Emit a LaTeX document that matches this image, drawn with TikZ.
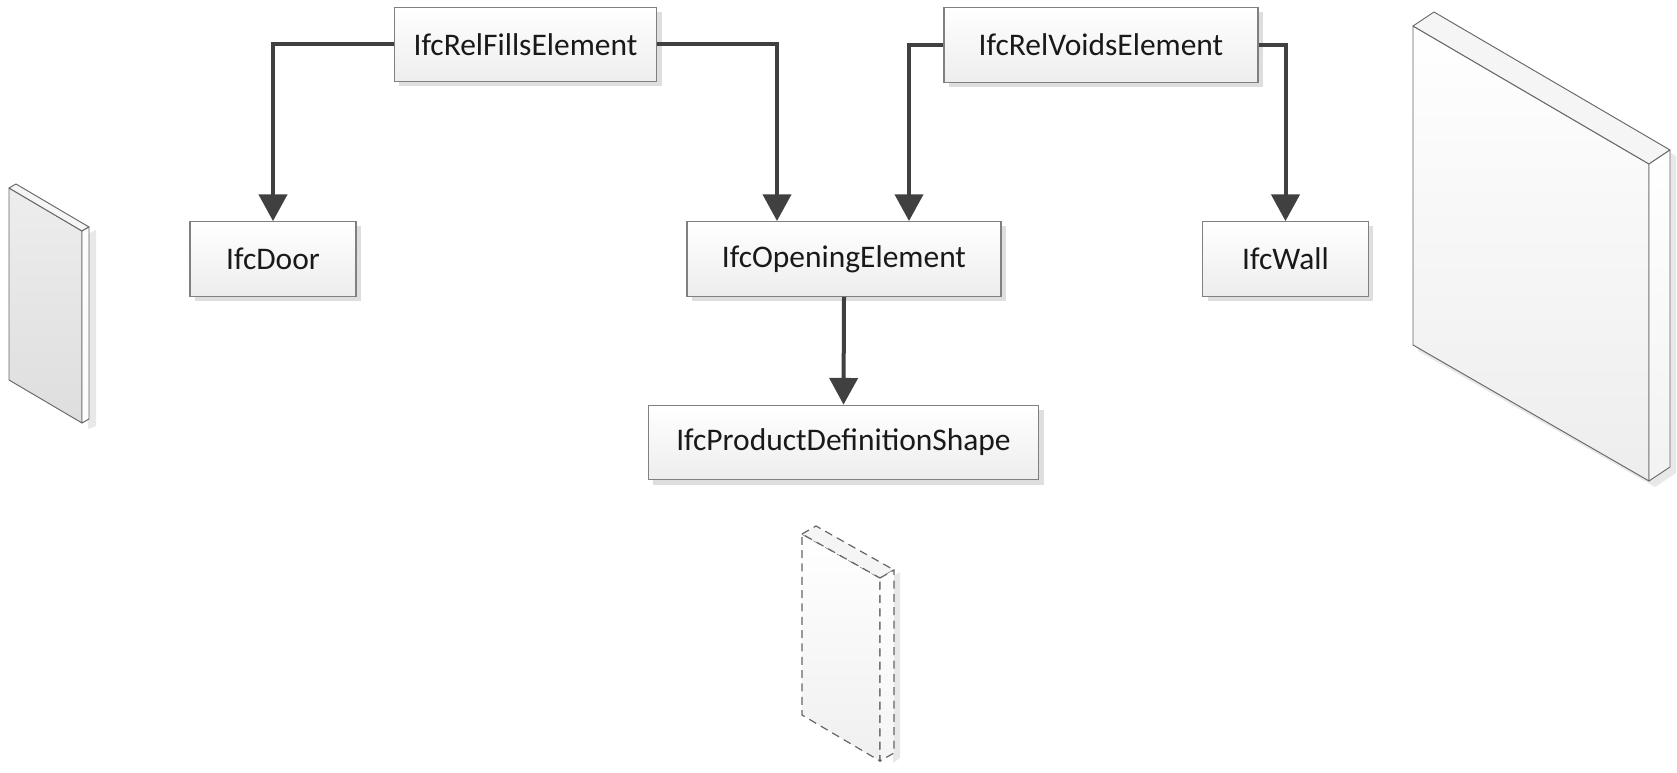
\documentclass[tikz,border=0pt]{standalone}
\usepackage{fontspec}
\setmainfont{Carlito}
\usetikzlibrary{arrows.meta,shadows}
\tikzset{ifcbox/.style={draw=black!50, line width=0.8pt,
                        top color=white, bottom color=black!7,
                        minimum height=56pt, inner sep=0pt, text=black!90,
                        font=\fontsize{23.6}{28}\selectfont,
                        drop shadow={shadow xshift=3.5pt, shadow yshift=-3.5pt,
                                     fill=black!13, opacity=1}},
         link/.style={draw=black!75, line width=3pt,
                      -{Triangle[length=20pt,width=21pt]}},
         slab/.style={draw=black!60, line width=0.7pt, line join=round},
         hollow/.style={draw=black!60, line width=0.9pt, dash pattern=on 6pt off 4pt},
         slabshadow/.style={fill=black!9}}

\begin{document}
\begin{tikzpicture}[x=0.75pt,y=-0.75pt]
    \useasboundingbox (0,0) rectangle (1677,773);

    \node[ifcbox, minimum width=197pt] (fills) at (525.5,44.5) {IfcRelFillsElement};
    \node[ifcbox, minimum width=235.5pt] (voids) at (1101,45) {IfcRelVoidsElement};

    \node[ifcbox, minimum width=124.5pt] (door) at (273,259) {IfcDoor};
    \node[ifcbox, minimum width=235.5pt] (opening) at (844,259) {IfcOpeningElement};
    \node[ifcbox, minimum width=124pt] (wall) at (1285.5,259) {IfcWall};

    \node[ifcbox, minimum width=293pt] (product) at (843.5,442.5) {IfcProductDefinitionShape};

    \coordinate (op-a) at (777,221);
    \coordinate (op-b) at (909,221);

    \draw[link] (fills.west) -| (door.north);
    \draw[link] (fills.east) -| (op-a);
    \draw[link] (voids.west) -| (op-b);
    \draw[link] (voids.east) -| (wall.north);
    \draw[link] (opening.south) -- (product.north);

    % door leaf
    \fill[slabshadow] (88,234) -- (96,230) -- (96,426) -- (88,429) -- cycle;
    \draw[slab, top color=black!7, bottom color=black!13] (9,188) -- (82,231) -- (82,423) -- (9,380) -- cycle;
    \draw[slab, fill=black!4] (9,188) -- (16,184) -- (89,227) -- (82,231) -- cycle;
    \draw[slab, fill=black!1] (82,231) -- (89,227) -- (89,419) -- (82,423) -- cycle;

    % wall
    \fill[slabshadow] (1418,32) -- (1439,18) -- (1676,156) -- (1676,473) -- (1655,487) -- (1418,351) -- cycle;
    \draw[slab, top color=white, bottom color=black!7] (1413,26) -- (1649,164) -- (1649,481) -- (1413,345) -- cycle;
    \draw[slab, fill=black!4] (1413,26) -- (1434,12) -- (1670,150) -- (1649,164) -- cycle;
    \draw[slab, top color=white, bottom color=black!5] (1649,164) -- (1670,150) -- (1670,467) -- (1649,481) -- cycle;

    % opening volume
    \fill[slabshadow] (893,576) -- (900,572) -- (900,758) -- (893,763) -- cycle;
    \draw[hollow, top color=white, bottom color=black!6] (802,534) -- (880,578) -- (880,761) -- (802,715) -- cycle;
    \draw[hollow, fill=black!4] (802,534) -- (816,526) -- (894,570) -- (880,578) -- cycle;
    \draw[hollow, top color=white, bottom color=black!4] (880,578) -- (894,570) -- (894,753) -- (880,761) -- cycle;
\end{tikzpicture}
\end{document}
